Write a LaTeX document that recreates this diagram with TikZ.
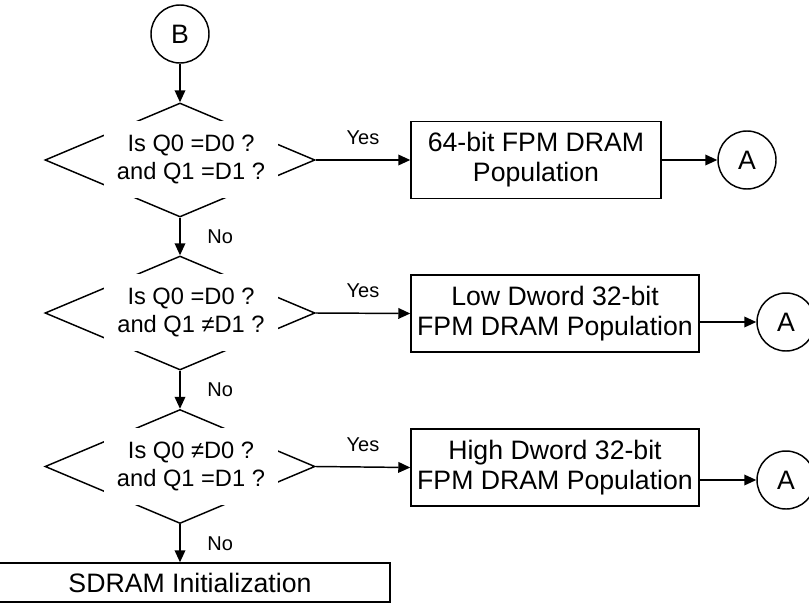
\documentclass[tikz,border=0pt]{standalone}
\usepackage{fontspec}
\setmainfont{Liberation Sans}
\usetikzlibrary{shapes.geometric,arrows.meta}

\tikzset{every picture/.style={line width=1.1pt}}
\tikzset{
	decision/.style={draw, shape=diamond, inner sep=0pt, minimum width=202.5pt, minimum height=85.5pt},
	dectext/.style={fill=white, inner sep=0pt, minimum width=130.5pt, minimum height=57.75pt, align=center, font=\fontsize{17.75}{21}\selectfont},
	procbox/.style={draw, inner sep=0pt, minimum height=57.5pt, align=center, font=\fontsize{20}{22.5}\selectfont},
	offpage/.style={draw, circle, inner sep=0pt, minimum size=43.5pt, font=\fontsize{20}{24}\selectfont},
	flow/.style={-{Triangle[length=9pt,width=8pt]}},
	branch/.style={inner sep=0pt, font=\fontsize{15}{18}\selectfont}
}

\begin{document}
\begin{tikzpicture}[x=0.75pt,y=0.75pt,yscale=-1,xscale=1]
	\useasboundingbox (0,0) rectangle (809,603);
	\clip (0,0) rectangle (809,603);
	
	%Shape: Circle [id:entryB]
	\node [offpage] (entryB) at (180,34) {B};
	
	%Shape: Diamond [id:qBoth]
	\node [decision] (qBoth) at (180,160) {};
	\node [dectext] (qBothTxt) at (191,159.5) {Is Q0 =D0 ?\\and Q1 =D1 ?};
	%Shape: Diamond [id:qLow]
	\node [decision] (qLow) at (180,313) {};
	\node [dectext] (qLowTxt) at (191,312.5) {Is Q0 =D0 ?\\and Q1 ≠D1 ?};
	%Shape: Diamond [id:qHigh]
	\node [decision] (qHigh) at (180,466.5) {};
	\node [dectext] (qHighTxt) at (191,466) {Is Q0 ≠D0 ?\\and Q1 =D1 ?};
	
	%Shape: Rectangle [id:pop64]
	\node [procbox, minimum width=187.5pt] (pop64) at (536,160) {64-bit FPM DRAM\\Population};
	%Shape: Rectangle [id:popLow]
	\node [procbox, minimum width=216pt] (popLow) at (555,313.5) {Low Dword 32-bit\\FPM DRAM Population};
	%Shape: Rectangle [id:popHigh]
	\node [procbox, minimum width=216pt] (popHigh) at (555,467.5) {High Dword 32-bit\\FPM DRAM Population};
	%Shape: Rectangle [id:sdramInit]
	\node [procbox, minimum width=300pt, minimum height=29.25pt] (sdramInit) at (190,582.5) {SDRAM Initialization};
	
	%Shape: Circle [id:exitA1]
	\node [offpage] (exitA1) at (747,160) {A};
	%Shape: Circle [id:exitA2]
	\node [offpage] (exitA2) at (786,322) {A};
	%Shape: Circle [id:exitA3]
	\node [offpage] (exitA3) at (786,480) {A};
	
	%Straight Lines
	\draw [flow] (entryB) -- (qBoth.north);
	\draw [flow] (qBoth.south) -- node [branch, anchor=west, xshift=20pt] {No} (qLow.north);
	\draw [flow] (qLow.south) -- node [branch, anchor=west, xshift=20pt] {No} (qHigh.north);
	\draw [flow] (qHigh.south) -- node [branch, anchor=west, xshift=20pt] {No} (sdramInit.north -| qHigh.south);
	
	\draw [flow] (qBoth.east) -- node [branch, anchor=south, yshift=11pt] {Yes} (pop64.west);
	\draw [flow] (qLow.east) -- node [branch, anchor=south, yshift=11pt] {Yes} (popLow.west);
	\draw [flow] (qHigh.east) -- node [branch, anchor=south, yshift=11pt] {Yes} (popHigh.west);
	
	\draw [flow] (pop64) -- (exitA1);
	\draw [flow] (popLow.east |- exitA2) -- (exitA2);
	\draw [flow] (popHigh.east |- exitA3) -- (exitA3);
	
\end{tikzpicture}
\end{document}
